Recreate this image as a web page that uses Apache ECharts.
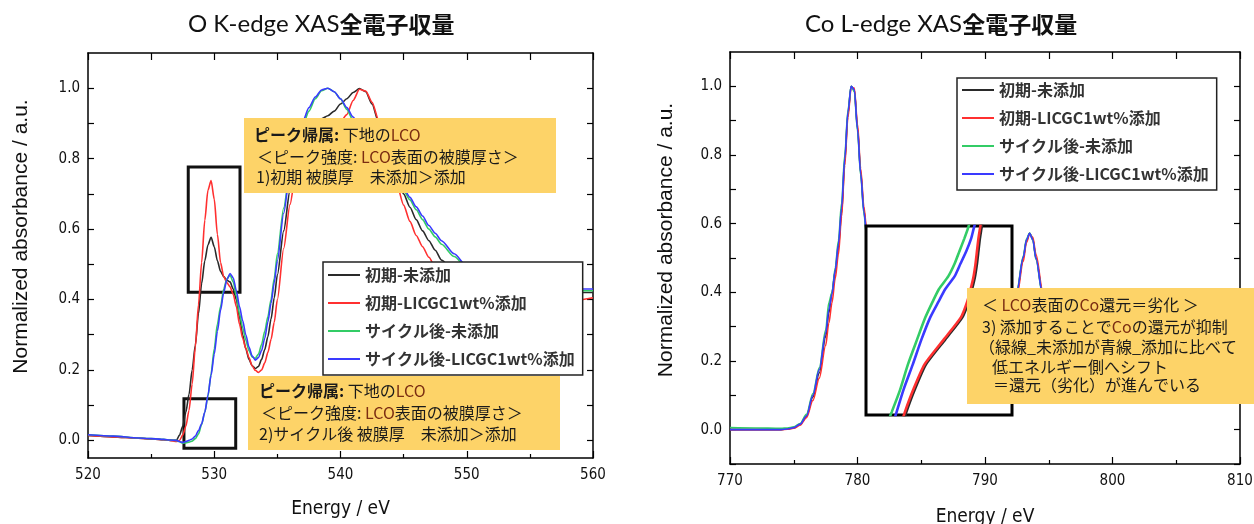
<!DOCTYPE html>
<html><head><meta charset="utf-8">
<script src="https://cdn.jsdelivr.net/npm/echarts@6/dist/echarts.min.js"></script>
<style>html,body{margin:0;padding:0;background:#fff}#c{width:1254px;height:524px}</style>
</head><body><div id="c"></div>
<script>
// ---------- names / colours ----------
const seriesNames = ['初期-未添加', '初期-LICGC1wt%添加', 'サイクル後-未添加', 'サイクル後-LICGC1wt%添加'];
const seriesColors = ['#2a2a2a', '#ff3030', '#33cc66', '#3a3aff'];

// ---------- O K-edge (left) ----------
const oEnergy = [520,522,524,526,526.5,527,527.25,527.5,527.75,528,528.25,528.5,528.75,529,529.25,529.5,529.75,530,530.25,530.5,530.75,531,531.25,531.5,531.75,532,532.25,532.5,532.75,533,533.25,533.5,533.75,534,534.25,534.5,534.75,535,535.5,536,536.5,537,537.5,538,538.5,539,539.5,540,540.5,541,541.5,542,542.5,543,543.5,544,544.5,545,545.5,546,546.5,547,547.5,548,549,550,552,554,556,558,560];
const oInitNone = [0.014,0.010,0.006,0.002,0.000,0.000,0.015,0.040,0.080,0.130,0.200,0.270,0.360,0.445,0.510,0.555,0.577,0.550,0.510,0.480,0.465,0.455,0.450,0.430,0.400,0.350,0.300,0.260,0.230,0.212,0.204,0.210,0.230,0.258,0.295,0.345,0.405,0.470,0.595,0.710,0.790,0.840,0.875,0.895,0.913,0.922,0.935,0.955,0.970,0.988,0.999,0.990,0.955,0.905,0.852,0.800,0.748,0.700,0.662,0.627,0.595,0.567,0.540,0.512,0.478,0.455,0.432,0.425,0.420,0.420,0.420];
const oInitAdd = [0.014,0.010,0.006,0.002,0.000,-0.003,0.000,0.015,0.040,0.085,0.160,0.265,0.385,0.505,0.625,0.710,0.738,0.685,0.585,0.505,0.465,0.448,0.436,0.415,0.380,0.330,0.290,0.262,0.235,0.212,0.199,0.193,0.200,0.220,0.250,0.287,0.335,0.400,0.545,0.670,0.770,0.835,0.870,0.885,0.893,0.895,0.900,0.905,0.925,0.965,0.997,0.992,0.960,0.912,0.848,0.785,0.722,0.668,0.622,0.582,0.550,0.520,0.492,0.470,0.445,0.430,0.415,0.405,0.400,0.395,0.405];
const oCycNone = [0.016,0.012,0.007,0.003,0.001,0.000,-0.004,-0.008,-0.007,-0.005,-0.002,0.005,0.018,0.045,0.080,0.125,0.190,0.260,0.330,0.380,0.430,0.458,0.469,0.450,0.410,0.360,0.320,0.285,0.255,0.237,0.233,0.245,0.272,0.310,0.352,0.400,0.460,0.530,0.660,0.765,0.850,0.893,0.935,0.970,0.993,1.000,0.990,0.970,0.940,0.908,0.880,0.855,0.828,0.802,0.780,0.760,0.735,0.710,0.683,0.655,0.627,0.600,0.578,0.557,0.522,0.490,0.455,0.440,0.430,0.425,0.425];
const oCycAdd = [0.016,0.012,0.007,0.003,0.001,0.000,-0.003,-0.006,-0.003,0.000,0.004,0.012,0.028,0.047,0.080,0.128,0.185,0.245,0.310,0.370,0.420,0.457,0.474,0.462,0.425,0.380,0.340,0.300,0.265,0.240,0.228,0.235,0.255,0.290,0.337,0.390,0.448,0.510,0.645,0.760,0.850,0.905,0.945,0.975,0.995,1.000,0.990,0.970,0.945,0.918,0.890,0.862,0.836,0.810,0.785,0.762,0.738,0.715,0.690,0.663,0.637,0.610,0.588,0.567,0.530,0.495,0.460,0.445,0.435,0.430,0.430];
const oYLabels = [0, 0.2, 0.4, 0.6, 0.8, 1.0];
const oYTicks = [0, 0.1, 0.2, 0.3, 0.4, 0.5, 0.6, 0.7, 0.8, 0.9, 1.0];
// highlight rectangles [xMin, xMax, yMin, yMax]
const oBoxPeak = [527.94, 532.04, 0.421, 0.776];
const oBoxEdge = [527.6, 531.7, -0.022, 0.118];

// ---------- Co L-edge (right) ----------
const coEnergy = [770,772,774,774.5,775,775.5,776,776.5,777,777.5,777.75,778,778.25,778.5,778.75,779,779.25,779.5,779.75,780,780.25,780.5,780.75,781,782,783,785,788,790,791,792,792.5,793,793.25,793.5,793.75,794,794.5,795,796,798,800,805,810];
const coInitNone = [0.000,0.000,0.000,0.002,0.005,0.015,0.040,0.095,0.165,0.270,0.340,0.400,0.460,0.530,0.630,0.780,0.920,1.000,0.990,0.880,0.750,0.640,0.560,0.490,0.330,0.260,0.200,0.165,0.165,0.200,0.320,0.400,0.500,0.550,0.572,0.555,0.500,0.400,0.320,0.240,0.200,0.190,0.180,0.170];
const coInitAdd = [0.000,0.000,0.000,0.001,0.004,0.013,0.035,0.085,0.150,0.245,0.310,0.370,0.440,0.510,0.620,0.770,0.910,0.995,0.995,0.890,0.760,0.650,0.570,0.500,0.335,0.262,0.200,0.165,0.163,0.195,0.310,0.390,0.490,0.545,0.570,0.560,0.510,0.410,0.325,0.242,0.200,0.190,0.180,0.170];
const coCycNone = [0.006,0.005,0.004,0.005,0.008,0.018,0.045,0.105,0.180,0.290,0.370,0.400,0.470,0.550,0.660,0.800,0.930,1.000,0.985,0.870,0.740,0.630,0.550,0.480,0.325,0.258,0.200,0.168,0.168,0.205,0.325,0.405,0.505,0.555,0.573,0.552,0.495,0.395,0.318,0.240,0.200,0.190,0.180,0.170];
const coCycAdd = [0.000,0.000,0.000,0.002,0.006,0.016,0.040,0.100,0.175,0.280,0.350,0.395,0.465,0.540,0.645,0.790,0.925,1.000,0.990,0.875,0.745,0.635,0.555,0.485,0.328,0.260,0.200,0.166,0.166,0.202,0.322,0.402,0.502,0.552,0.572,0.553,0.498,0.398,0.320,0.240,0.200,0.190,0.180,0.170];
const coYLabels = [0, 0.2, 0.4, 0.6, 0.8, 1.0];
const coYTicks = [-0.1, 0, 0.1, 0.2, 0.3, 0.4, 0.5, 0.6, 0.7, 0.8, 0.9, 1.0];

// ---------- Co L-edge magnified inset (edge region) ----------
const insetAbs   = [-0.03,0.01,0.08,0.16,0.24,0.31,0.36,0.40,0.44,0.48,0.52,0.56,0.59,0.63];
const insetInitNone = [776.75,776.83,777.00,777.23,777.63,777.98,778.11,778.18,778.24,778.28,778.31,778.34,778.37,778.41];
const insetInitAdd  = [776.72,776.80,776.97,777.20,777.60,777.95,778.08,778.15,778.21,778.25,778.28,778.31,778.34,778.38];
const insetCycNone  = [776.43,776.53,776.70,776.86,777.05,777.22,777.37,777.50,777.69,777.82,777.92,778.02,778.09,778.17];
const insetCycAdd   = [776.55,776.63,776.77,776.96,777.14,777.32,777.49,777.63,777.82,777.94,778.06,778.16,778.21,778.28];

// ---------- fonts ----------
const NARROW = '"Liberation Sans Narrow","Arial Narrow","DejaVu Sans Condensed","Liberation Sans",sans-serif';
const SANS = '"Liberation Sans",Arial,sans-serif';
const CJK = '"Noto Sans CJK JP","Noto Sans",sans-serif';
const LATIN_T = 'Lato,"Open Sans",sans-serif';

const zip = (xs, ys) => xs.map((x, i) => [x, ys[i]]);

function xAx(gridIndex, min, max, pos, withLabel, margin, nameGap) {
  return {
    type: 'value', gridIndex, min, max, interval: 10, position: pos,
    axisLine: {show: true, onZero: false, lineStyle: {color: '#000', width: 1.5}},
    axisTick: {show: true, inside: true, length: 7, lineStyle: {color: '#000', width: 1.2}},
    minorTick: {show: true, splitNumber: 2, length: pos === 'top' ? 7 : 4, lineStyle: {color: '#000', width: 1.2}},
    splitLine: {show: false},
    axisLabel: {show: withLabel, fontFamily: NARROW, fontSize: 15, color: '#111', margin: margin},
    name: withLabel ? 'Energy / eV' : '',
    nameLocation: 'middle', nameGap: nameGap,
    nameTextStyle: {fontFamily: NARROW, fontSize: 19, color: '#111'}
  };
}
function yAx(gridIndex, min, max, pos, withLabel, labels, ticks, nameGap, shift) {
  return {
    type: 'value', gridIndex, min, max, position: pos,
    axisLine: {show: true, onZero: false, lineStyle: {color: '#000', width: 1.5}},
    axisTick: {show: true, inside: true, length: 6, customValues: ticks, lineStyle: {color: '#000', width: 1.2}},
    splitLine: {show: false},
    axisLabel: {show: withLabel, customValues: labels, formatter: v => v.toFixed(1), fontFamily: NARROW, fontSize: 15, color: '#111', margin: 8},
    name: withLabel ? 'Normalized absorbance / a.u.' : '',
    nameLocation: 'middle', nameGap: nameGap,
    nameTextStyle: {fontFamily: SANS, fontSize: 21, color: '#111', padding: [0, 0, 0, shift]}
  };
}

const leftData = [oInitNone, oInitAdd, oCycNone, oCycAdd];
const rightData = [coInitNone, coInitAdd, coCycNone, coCycAdd];
const insetData = [insetInitNone, insetInitAdd, insetCycNone, insetCycAdd];

const series = [];
leftData.forEach((d, i) => {
  const s = {
    name: seriesNames[i], type: 'line', xAxisIndex: 0, yAxisIndex: 0,
    data: zip(oEnergy, d), showSymbol: false, smooth: 0.25, smoothMonotone: 'x',
    lineStyle: {color: seriesColors[i], width: 1.6}, itemStyle: {color: seriesColors[i]}, z: 2
  };
  if (i === 0) {
    s.markArea = {
      silent: true,
      itemStyle: {color: 'rgba(0,0,0,0)', borderColor: '#111', borderWidth: 3},
      data: [oBoxPeak, oBoxEdge].map(b => [{coord: [b[0], b[3]]}, {coord: [b[1], b[2]]}])
    };
  }
  series.push(s);
});
rightData.forEach((d, i) => series.push({
  name: seriesNames[i], type: 'line', xAxisIndex: 2, yAxisIndex: 2,
  data: zip(coEnergy, d), showSymbol: false, smooth: 0.3, smoothMonotone: 'x',
  lineStyle: {color: seriesColors[i], width: 1.6}, itemStyle: {color: seriesColors[i]}, z: 2
}));
insetData.forEach((d, i) => series.push({
  name: seriesNames[i], type: 'line', xAxisIndex: 4, yAxisIndex: 4,
  data: zip(d, insetAbs), showSymbol: false, smooth: 0.2,
  lineStyle: {color: seriesColors[i], width: 2.6}, itemStyle: {color: seriesColors[i]}, z: 6
}));

function legendAt(left, top, padding) {
  return {
    left, top, orient: 'vertical', icon: 'rect', itemWidth: 32, itemHeight: 2, itemGap: 10,
    padding, borderColor: '#222', borderWidth: 1.5, backgroundColor: '#fff',
    textStyle: {fontFamily: CJK, fontWeight: 'bold', fontSize: 16, color: '#333', lineHeight: 18},
    data: seriesNames, selectedMode: false
  };
}

const TXT = 16;
const rich = {
  b: {fontFamily: CJK, fontSize: TXT, fontWeight: 'bold', fill: '#1a1a1a'},
  r: {fontFamily: CJK, fontSize: TXT, fontWeight: 'normal', fill: '#7b2d12'},
  n: {fontFamily: CJK, fontSize: TXT, fontWeight: 'normal', fill: '#1a1a1a'}
};
function note(x, y, w, h, lines) {
  return {
    type: 'group', x, y, z: 100,
    children: [{type: 'rect', shape: {x: 0, y: 0, width: w, height: h}, style: {fill: '#FDD368'}, z: 100}]
      .concat(lines.map(l => ({
        type: 'text', x: l[0], y: l[1], z: 101,
        style: {text: l[2], rich, fontFamily: CJK, fontSize: TXT, fill: '#1a1a1a', verticalAlign: 'middle', align: 'left'}
      })))
  };
}

const titleRich = {
  a: {fontFamily: LATIN_T, fontSize: 24, fontWeight: 'normal', color: '#111'},
  b: {fontFamily: CJK, fontSize: 23, fontWeight: 'bold', color: '#111'}
};

const option = {
  animation: false,
  backgroundColor: '#fff',
  title: [
    {text: '{a|O K-edge XAS}{b|全電子収量}', left: 183, top: 7, textStyle: {fontWeight: 'normal', rich: titleRich}},
    {text: '{a|Co L-edge XAS}{b|全電子収量}', left: 800, top: 7, textStyle: {fontWeight: 'normal', rich: titleRich}}
  ],
  legend: [legendAt(323, 262, [4, 8, 7, 5]), legendAt(957, 78, [3, 8, 7, 5])],
  grid: [
    {left: 88, top: 53, width: 505, height: 405, outerBoundsMode: 'none'},
    {left: 730, top: 52, width: 510, height: 412, outerBoundsMode: 'none'},
    {left: 866, top: 226, width: 146, height: 189, outerBoundsMode: 'none', show: true, backgroundColor: '#fff', borderColor: '#000', borderWidth: 3, z: 5}
  ],
  xAxis: [
    xAx(0, 520, 560, 'bottom', true, 10, 42),
    xAx(0, 520, 560, 'top', false, 9, 0),
    xAx(1, 770, 810, 'bottom', true, 10, 44),
    xAx(1, 770, 810, 'top', false, 9, 0),
    {type: 'value', gridIndex: 2, min: 776, max: 779, show: false}
  ],
  yAxis: [
    yAx(0, -0.05, 1.1, 'left', true, oYLabels, oYTicks, 56, 38),
    yAx(0, -0.05, 1.1, 'right', false, oYLabels, oYTicks, 0, 0),
    yAx(1, -0.1, 1.1, 'left', true, coYLabels, coYTicks, 53, 36),
    yAx(1, -0.1, 1.1, 'right', false, coYLabels, coYTicks, 0, 0),
    {type: 'value', gridIndex: 2, min: 0, max: 0.6, show: false}
  ],
  series,
  graphic: [
    note(244, 118, 312, 75, [
      [10, 17, '{b|ピーク帰属:} 下地の{r|LCO}'],
      [13, 39, '＜ピーク強度:{r| LCO}表面の被膜厚さ＞'],
      [12, 59, '1)初期 被膜厚　未添加＞添加']
    ]),
    note(248, 376, 312, 74, [
      [11, 15, '{b|ピーク帰属:} 下地の{r|LCO}'],
      [13, 37, '＜ピーク強度:{r| LCO}表面の被膜厚さ＞'],
      [11, 58, '2)サイクル後 被膜厚　未添加＞添加']
    ]),
    note(967, 288, 287, 116, [
      [15, 17, '＜ {r|LCO}表面の{r|Co}還元＝劣化 ＞'],
      [15, 39, '3) 添加することで{r|Co}の還元が抑制'],
      [12, 59, '（緑線_未添加が青線_添加に比べて'],
      [25, 79, '低エネルギー側へシフト'],
      [26, 97, '＝還元（劣化）が進んでいる']
    ])
  ]
};

const chart = echarts.init(document.getElementById('c'), null, {renderer: 'canvas'});
chart.setOption(option);
</script></body></html>
